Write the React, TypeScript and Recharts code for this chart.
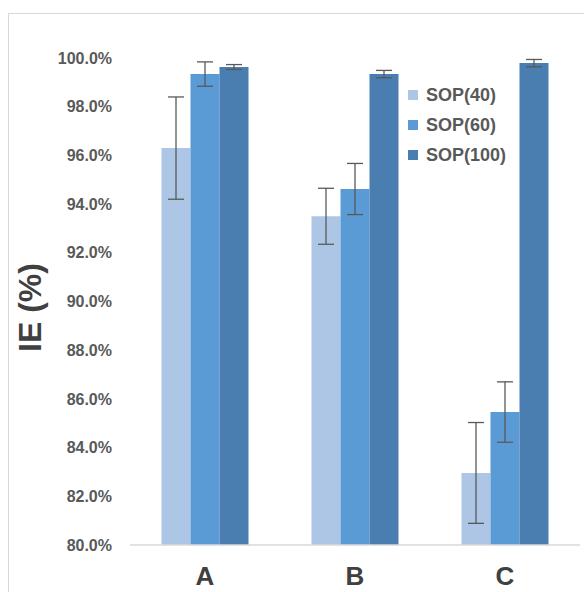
import { BarChart, Bar, XAxis, YAxis, ErrorBar } from 'recharts'

const categories = ['A', 'B', 'C']
const seriesNames = ['SOP(40)', 'SOP(60)', 'SOP(100)']
const sop40 = [96.3, 93.5, 82.96]
const sop60 = [99.34, 94.62, 85.46]
const sop100 = [99.63, 99.34, 99.79]
const err40 = [2.1, 1.15, 2.07]
const err60 = [0.5, 1.05, 1.24]
const err100 = [0.1, 0.15, 0.15]
const yTicks = [80, 82, 84, 86, 88, 90, 92, 94, 96, 98, 100]

const colors = ['#ADC6E5', '#5B9BD5', '#4A7EB0']

const data = categories.map((c, i) => ({
  name: c,
  s40: sop40[i],
  s60: sop60[i],
  s100: sop100[i],
  e40: err40[i],
  e60: err60[i],
  e100: err100[i],
}))

const font = "'Liberation Sans', Arial, sans-serif"

function LegendBox() {
  return (
    <div style={{ position: 'absolute', left: 408, top: 80 }}>
      {seriesNames.map((n, i) => (
        <div
          key={n}
          style={{ display: 'flex', alignItems: 'center', height: 30 }}
        >
          <span
            style={{
              width: 10,
              height: 10,
              background: colors[i],
              marginRight: 8,
              display: 'inline-block',
            }}
          />
          <span
            style={{
              fontFamily: font,
              fontWeight: 'bold',
              fontSize: 18,
              color: '#595959',
            }}
          >
            {n}
          </span>
        </div>
      ))}
    </div>
  )
}

export default function App() {
  return (
    <div
      style={{
        position: 'fixed',
        left: 0,
        top: 0,
        width: 584,
        height: 592,
        overflow: 'hidden',
        background: '#fff',
      }}
    >
      <div
        style={{
          position: 'absolute',
          left: 8,
          top: 13,
          width: 600,
          height: 600,
          borderTop: '1.5px solid #D9D9D9',
          borderLeft: '1.5px solid #D9D9D9',
        }}
      />
      <div style={{ position: 'absolute', left: 0, top: 0 }}>
        <BarChart
          width={584}
          height={592}
          data={data}
          margin={{ top: 58, right: 4, bottom: 17, left: 0 }}
          barCategoryGap="21%"
          barGap={0}
        >
          <XAxis
            dataKey="name"
            height={30}
            axisLine={{ stroke: '#D9D9D9', strokeWidth: 1.5 }}
            tickLine={false}
            tickMargin={16}
            tick={{
              fontFamily: font,
              fontWeight: 'bold',
              fontSize: 26,
              fill: '#404040',
            }}
          />
          <YAxis
            width={130}
            domain={[80, 100]}
            ticks={yTicks}
            interval={0}
            axisLine={false}
            tickLine={false}
            tickMargin={12}
            tickFormatter={(v: number) => `${v.toFixed(1)}%`}
            tick={{
              fontFamily: font,
              fontWeight: 'bold',
              fontSize: 16,
              fill: '#595959',
            }}
            label={{
              content: (props: any) => {
                const vb = props.viewBox
                const cy = vb.y + vb.height / 2 + 6
                return (
                  <text
                    x={41}
                    y={cy}
                    transform={`rotate(-90 41 ${cy})`}
                    textAnchor="middle"
                    fontFamily={font}
                    fontWeight="bold"
                    fontSize={32}
                    fill="#404040"
                  >
                    IE (%)
                  </text>
                )
              },
            }}
          />
          <Bar dataKey="s40" name={seriesNames[0]} fill={colors[0]} isAnimationActive={false}>
            <ErrorBar dataKey="e40" width={8} stroke="#595959" strokeWidth={1.3} />
          </Bar>
          <Bar dataKey="s60" name={seriesNames[1]} fill={colors[1]} isAnimationActive={false}>
            <ErrorBar dataKey="e60" width={8} stroke="#595959" strokeWidth={1.3} />
          </Bar>
          <Bar dataKey="s100" name={seriesNames[2]} fill={colors[2]} isAnimationActive={false}>
            <ErrorBar dataKey="e100" width={8} stroke="#595959" strokeWidth={1.3} />
          </Bar>
        </BarChart>
      </div>
      <LegendBox />
    </div>
  )
}
